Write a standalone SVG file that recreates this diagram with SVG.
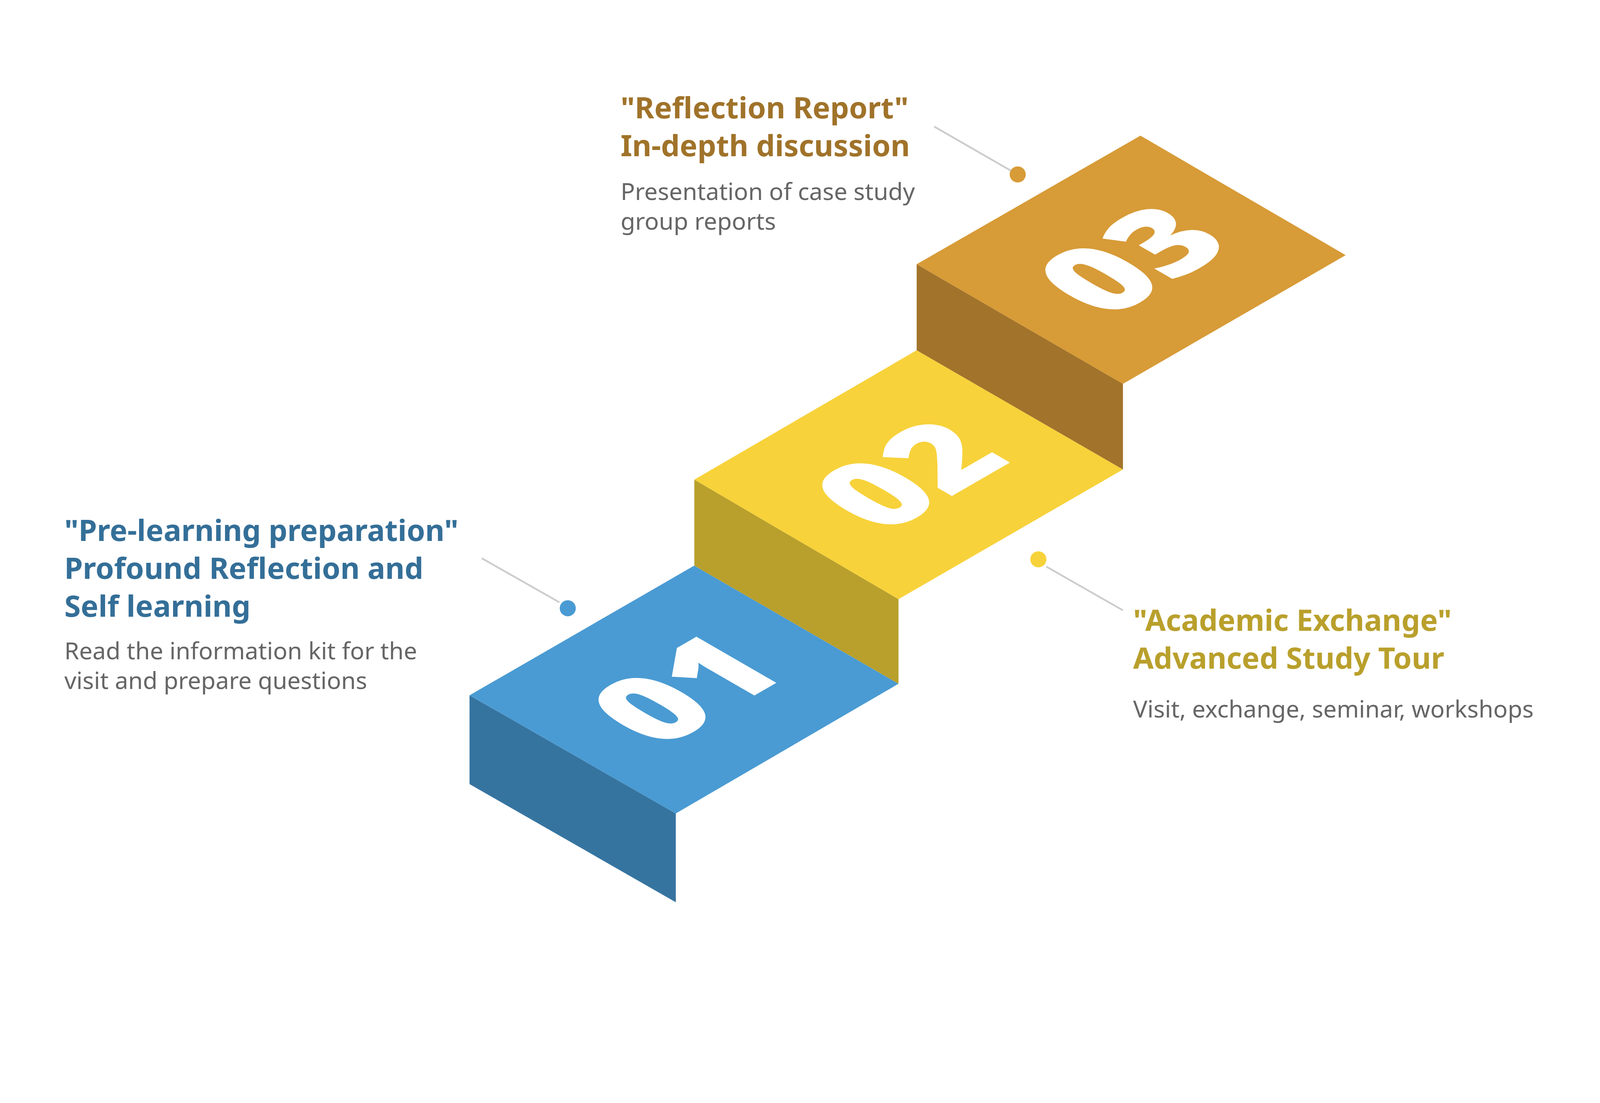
<svg xmlns="http://www.w3.org/2000/svg" width="4554" height="2824" viewBox="0 0 4554 2824">
<style>
.num{font-family:"Open Sans","Noto Sans",sans-serif;font-weight:800;font-size:370px;fill:#fff;text-anchor:middle}
.t{font-family:"Noto Sans","Open Sans",sans-serif;font-weight:700;font-size:85px}
.b{font-family:"Noto Sans","Open Sans",sans-serif;font-size:68px;fill:#666}
.ln{stroke:#cccccc;stroke-width:5}
</style>
<rect width="4554" height="2824" fill="#fff"/>
<g transform="scale(0.895)">
<g id="step1">
<polygon points="1343,1989 1933,2327 1933,2581 1343,2243" fill="#3674a0"/>
<polygon points="1343,1989 1986,1618 2570,1956 1933,2327" fill="#4a9bd3"/>
<text class="num" transform="matrix(0.866,-0.5,0.866,0.5,1958,1972)" y="133">01</text>
</g>
<g id="step2">
<polygon points="1986,1372 2570,1714 2570,1956 1986,1618" fill="#b9a02c"/>
<polygon points="1986,1372 2622,1002 3212,1343 2570,1714" fill="#f7d23a"/>
<text class="num" transform="matrix(0.866,-0.5,0.866,0.5,2598,1358)" y="133">02</text>
</g>
<g id="step3">
<polygon points="2622,756 3212,1098 3212,1343 2622,1002" fill="#a2732a"/>
<polygon points="2622,756 3262,388 3849,730 3212,1098" fill="#d79b37"/>
<text class="num" transform="matrix(0.866,-0.5,0.866,0.5,3236,743)" y="133">03</text>
</g>
<g id="connectors">
<line class="ln" x1="1378" y1="1597" x2="1600" y2="1723"/>
<line class="ln" x1="2672" y1="362" x2="2891" y2="488"/>
<line class="ln" x1="2993" y1="1621" x2="3212" y2="1746"/>
<circle cx="1624" cy="1740" r="23" fill="#4a9bd3"/>
<circle cx="2911" cy="499" r="23" fill="#d79b37"/>
<circle cx="2970" cy="1600" r="23" fill="#f7d23a"/>
</g>
<g id="label1">
<text class="t" fill="#346f98"><tspan x="184" y="1548">"Pre-learning preparation"</tspan><tspan x="184" y="1656">Profound Reflection and</tspan><tspan x="184" y="1764">Self learning</tspan></text>
<text class="b"><tspan x="184" y="1886">Read the information kit for the</tspan><tspan x="184" y="1971">visit and prepare questions</tspan></text>
</g>
<g id="label3">
<text class="t" fill="#a0732a"><tspan x="1775" y="339">"Reflection Report"</tspan><tspan x="1775" y="447">In-depth discussion</tspan></text>
<text class="b"><tspan x="1775" y="572">Presentation of case study</tspan><tspan x="1775" y="657">group reports</tspan></text>
</g>
<g id="label2">
<text class="t" fill="#b9a02c"><tspan x="3241" y="1805">"Academic Exchange"</tspan><tspan x="3241" y="1913">Advanced Study Tour</tspan></text>
<text class="b" x="3241" y="2053">Visit, exchange, seminar, workshops</text>
</g>
</g>
</svg>
